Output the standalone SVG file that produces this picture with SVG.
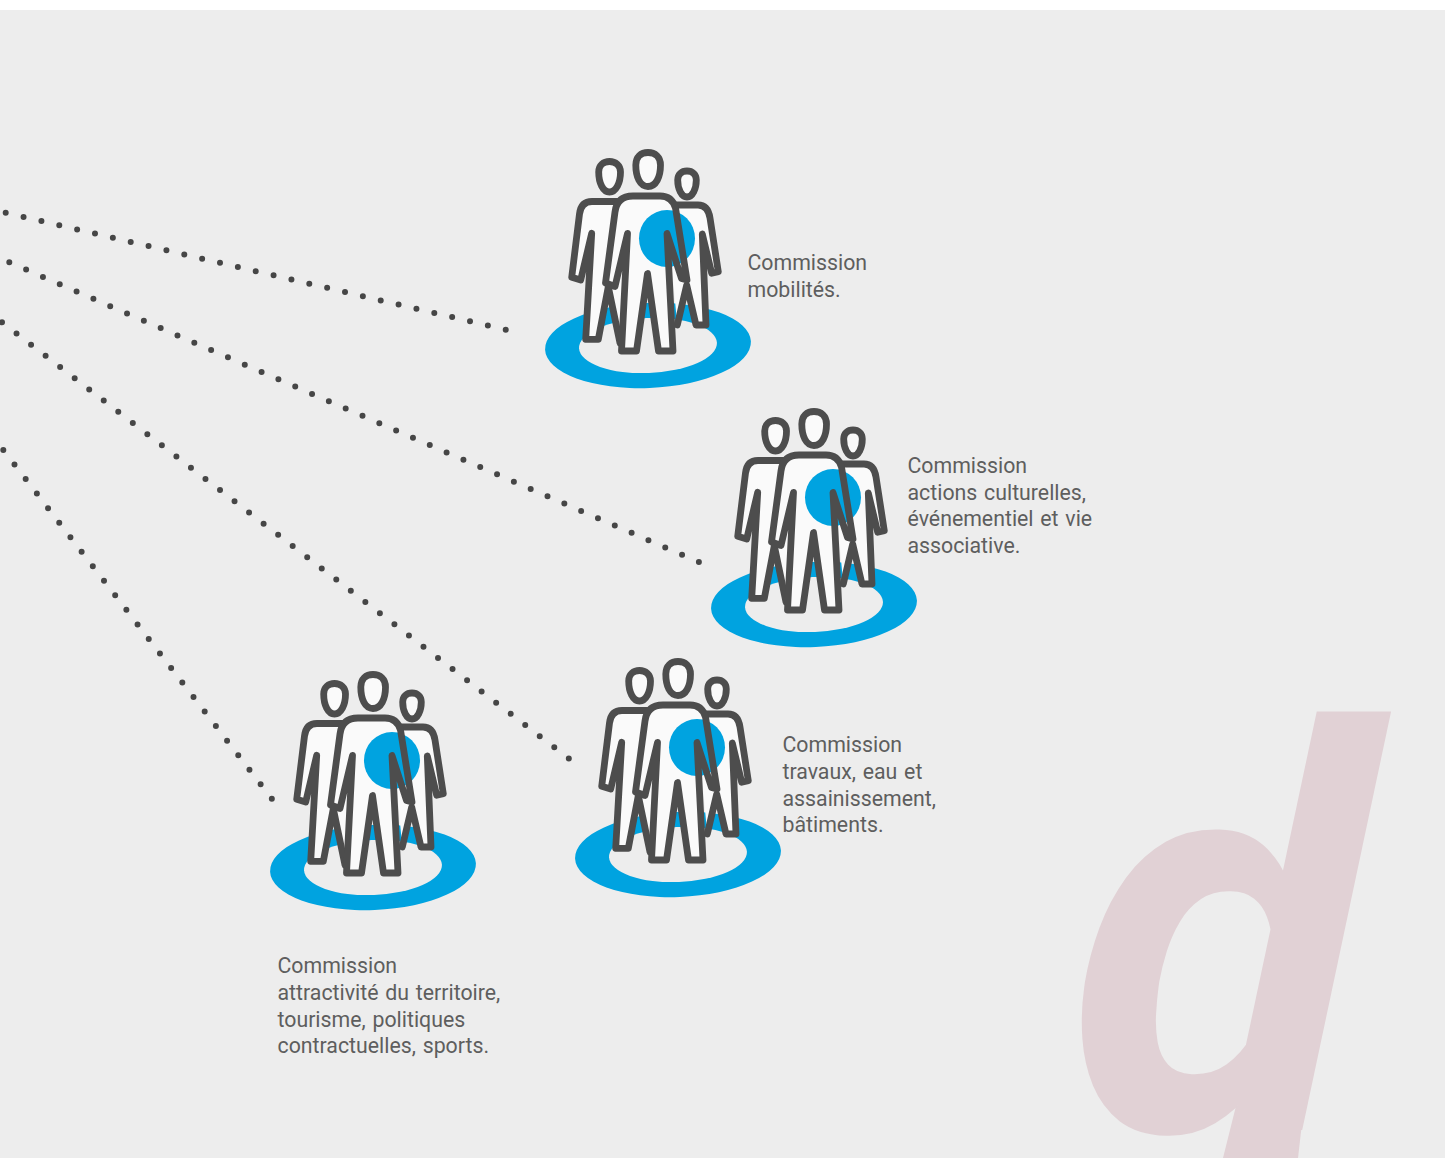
<svg xmlns="http://www.w3.org/2000/svg" width="1445" height="1158" viewBox="0 0 1445 1158">
<style>
.bg{fill:#ededed}
.dots{fill:none;stroke:#464646;stroke-width:6;stroke-linecap:round;stroke-dasharray:0 18.34}
.ring{fill:#00a3e0}
.hole{fill:#ededed}
.blue{fill:#00a3e0}
.f{fill:#fafafa;stroke:none}
.s{fill:none;stroke:#4d4d4d;stroke-width:6.8;stroke-linejoin:round;stroke-linecap:round}
.p{fill:#fafafa;stroke:#4d4d4d;stroke-width:6.8;stroke-linejoin:round;stroke-linecap:round}
.t{font-family:Roboto,"Liberation Sans",sans-serif;font-size:21.3px;font-weight:400;fill:#5e5e5e;word-spacing:1.5px}
.big{font-family:Roboto,"Liberation Sans",sans-serif;font-size:558px;font-weight:700;font-style:italic;fill:#e1d1d5}
.stem{fill:#e1d1d5}
</style>
<defs>
<path id="hc" d="M648 152.500C655 152.500 660.500 157 660.500 165C660.500 177 656 186.500 648 186.500C640 186.500 635.800 177 635.800 165C635.800 157 641 152.500 648 152.500Z"/>
<g id="people">
<g transform="rotate(-2.300 648 345.500)">
<ellipse class="ring" cx="648" cy="345.500" rx="103" ry="42.500"/>
<ellipse class="hole" cx="648" cy="345.500" rx="69" ry="27.500"/>
</g>
<path class="p" d="M609.500 161.500C615.500 161.500 620.500 165.500 620.500 172C620.500 183 616 192 609.500 192C603 192 598.700 183 598.700 172C598.700 165.500 603.500 161.500 609.500 161.500Z"/>
<path class="p" d="M687 171C692.500 171 696.300 174.500 696.300 180C696.300 189 692.500 197 687 197C681.500 197 677.700 189 677.700 180C677.700 174.500 681.500 171 687 171Z"/>
<path class="p" d="M625 201.500L592 201.500Q581 201.500 579.500 214L571.700 277.300L580.700 280L591.700 233.300L585.700 339.300L598.300 339.300L608.300 286.700L620 343"/>
<path class="p" d="M666 205L698 205Q708 205 710 218L718.300 271.700L711.700 273.300L702.300 234L706 325L696 325L686.700 285L677.300 325"/>
<use href="#hc" class="f"/>
<path id="bc" class="f" d="M605.500 283L615 212Q617 196 633 196L660 196Q672 196 675.500 208L687 280L681.500 278.500L667 233.500L673 351L658.500 351L647.500 273.500L636.500 351L621.500 351L627.500 233.500L615 286.500Z"/>
<ellipse class="blue" cx="667" cy="238.500" rx="28" ry="28.500"/>
<use href="#hc" class="s"/>
<path class="s" d="M605.500 283L615 212Q617 196 633 196L660 196Q672 196 675.500 208L687 280L681.500 278.500L667 233.500L673 351L658.500 351L647.500 273.500L636.500 351L621.500 351L627.500 233.500L615 286.500Z"/>
</g>
</defs>
<rect class="bg" x="0" y="10" width="1445" height="1148"/>
<g id="letter">
<polygon class="stem" points="1236,1106 1304,1106 1298,1158 1223,1158"/>
<text class="big" transform="translate(1064 1130) skewX(-2.600) scale(.964 1)" x="0" y="0">d</text>
</g>
<g id="connectors">
<path class="dots" d="M5.700 212.700L506 329.700"/>
<path class="dots" d="M9.300 262.300L699.300 562.300"/>
<path class="dots" d="M2 322.300L569 758.700"/>
<path class="dots" d="M3.300 450L272 799"/>
</g>
<g id="node-mobilites"><use href="#people"/><text class="t" x="747.500" y="270">Commission</text><text class="t" x="747.500" y="296.500">mobilités.</text></g>
<g id="node-culture"><use href="#people" x="166" y="259"/><text class="t" x="907.500" y="473">Commission</text><text class="t" x="907.500" y="500">actions culturelles,</text><text class="t" x="907.500" y="526">événementiel et vie</text><text class="t" x="907.500" y="553">associative.</text></g>
<g id="node-travaux"><use href="#people" x="30" y="509"/><text class="t" x="782.500" y="752">Commission</text><text class="t" x="782.500" y="779">travaux, eau et</text><text class="t" x="782.500" y="806">assainissement,</text><text class="t" x="782.500" y="832">bâtiments.</text></g>
<g id="node-attractivite"><use href="#people" x="-275" y="522"/><text class="t" x="277.500" y="973">Commission</text><text class="t" x="277.500" y="1000">attractivité du territoire,</text><text class="t" x="277.500" y="1027">tourisme, politiques</text><text class="t" x="277.500" y="1053">contractuelles, sports.</text></g>
</svg>
